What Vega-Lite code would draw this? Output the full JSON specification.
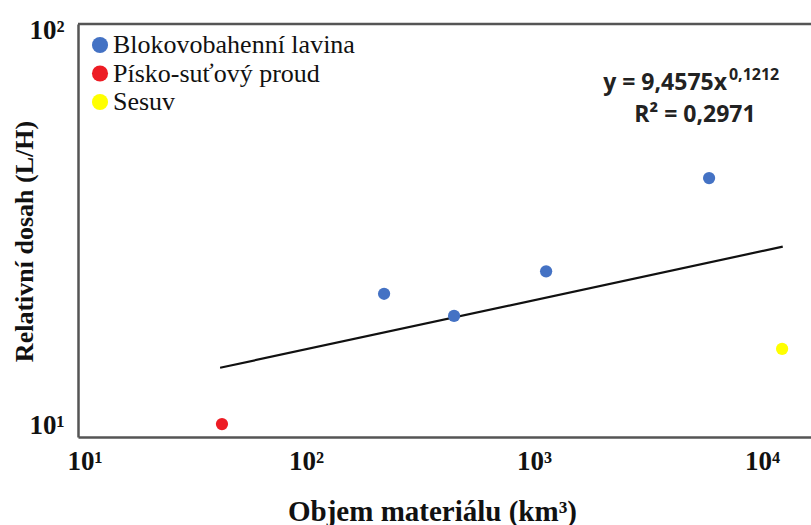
{
  "$schema": "https://vega.github.io/schema/vega-lite/v6.json",
  "width": 733,
  "height": 413,
  "autosize": {"type": "none"},
  "padding": {"left": 78, "top": 24, "right": 0, "bottom": 88},
  "background": "white",
  "config": {
    "view": {"stroke": null},
    "axis": {
      "domainColor": "#555555",
      "domainWidth": 2.5,
      "ticks": false,
      "grid": false,
      "labelFont": "Liberation Serif",
      "labelFontWeight": "bold",
      "labelFontSize": 27,
      "labelColor": "#111111",
      "titleFont": "Liberation Serif",
      "titleFontWeight": "bold",
      "titleFontSize": 26,
      "titleColor": "#111111"
    },
    "legend": {
      "labelFont": "Liberation Serif",
      "labelFontSize": 26,
      "labelFontWeight": "normal",
      "labelLimit": 0
    }
  },
  "datasets": {
    "points": [
      {"typ": "Písko-suťový proud", "objem": 42.8, "dosah": 10.06},
      {"typ": "Blokovobahenní lavina", "objem": 220, "dosah": 21.5},
      {"typ": "Blokovobahenní lavina", "objem": 446, "dosah": 18.9},
      {"typ": "Blokovobahenní lavina", "objem": 1130, "dosah": 24.5},
      {"typ": "Blokovobahenní lavina", "objem": 5860, "dosah": 42.2},
      {"typ": "Sesuv", "objem": 12250, "dosah": 15.6}
    ],
    "trend": [
      {"objem": 42, "dosah": 13.97},
      {"objem": 12330, "dosah": 28.3}
    ],
    "frame": [{"dosah": 103.6}]
  },
  "layer": [
    {
      "data": {"name": "frame"},
      "mark": {"type": "rule", "color": "#555555", "strokeWidth": 2.5},
      "encoding": {
        "y": {"field": "dosah", "type": "quantitative", "scale": {"type": "log", "domain": [9.33, 103.6]}}
      }
    },
    {
      "data": {"name": "trend"},
      "mark": {"type": "line", "color": "#111111", "strokeWidth": 2.2},
      "encoding": {
        "x": {"field": "objem", "type": "quantitative", "scale": {"type": "log", "domain": [10, 16400]},
          "axis": {"values": [10, 100, 1000, 10000], "labelExpr": "datum.value == 10 ? '10¹' : datum.value == 100 ? '10²' : datum.value == 1000 ? '10³' : '10⁴'", "labelPadding": 11, "labelFlush": true, "labelFlushOffset": 11, "title": "Objem materiálu (km³)", "titleFontSize": 29, "titleBaseline": "middle", "titleY": 74, "titleX": 354}},
        "y": {"field": "dosah", "type": "quantitative", "scale": {"type": "log", "domain": [9.33, 103.6]},
          "axis": {"values": [10, 100], "labelExpr": "datum.value == 10 ? '10¹' : '10²'", "labelPadding": 14, "labelBaseline": "middle", "title": "Relativní dosah (L/H)", "titleBaseline": "middle", "titleX": -54, "titleY": 217}}
      }
    },
    {
      "data": {"name": "points"},
      "mark": {"type": "circle", "size": 150, "opacity": 1},
      "encoding": {
        "x": {"field": "objem", "type": "quantitative", "scale": {"type": "log", "domain": [10, 16400]}},
        "y": {"field": "dosah", "type": "quantitative", "scale": {"type": "log", "domain": [9.33, 103.6]}},
        "color": {
          "field": "typ", "type": "nominal",
          "scale": {"domain": ["Blokovobahenní lavina", "Písko-suťový proud", "Sesuv"], "range": ["#4472C4", "#ED1C24", "#FFFF00"]},
          "legend": {
            "title": null, "orient": "none", "legendX": 9, "legendY": 8,
            "symbolType": "circle", "symbolSize": 260, "symbolStrokeWidth": 0, "symbolOpacity": 1,
            "labelFont": "Liberation Serif", "labelFontSize": 26, "labelColor": "#111111", "labelLimit": 0,
            "labelOffset": 0, "rowPadding": 2.5, "padding": 0
          }
        }
      }
    },
    {
      "data": {"values": [
        {"objem": 7020, "dosah": 73.4, "t": "y = 9,4575x"}
      ]},
      "mark": {"type": "text", "font": "Open Sans", "fontWeight": "bold", "fontSize": 23, "align": "right", "baseline": "middle", "color": "#222222"},
      "encoding": {
        "x": {"field": "objem", "type": "quantitative", "scale": {"type": "log", "domain": [10, 16400]}},
        "y": {"field": "dosah", "type": "quantitative", "scale": {"type": "log", "domain": [9.33, 103.6]}},
        "text": {"field": "t"}
      }
    },
    {
      "data": {"values": [
        {"objem": 7160, "dosah": 77.0, "t": "0,1212"}
      ]},
      "mark": {"type": "text", "font": "Open Sans", "fontWeight": "bold", "fontSize": 16, "align": "left", "baseline": "middle", "color": "#222222"},
      "encoding": {
        "x": {"field": "objem", "type": "quantitative", "scale": {"type": "log", "domain": [10, 16400]}},
        "y": {"field": "dosah", "type": "quantitative", "scale": {"type": "log", "domain": [9.33, 103.6]}},
        "text": {"field": "t"}
      }
    },
    {
      "data": {"values": [
        {"objem": 5080, "dosah": 60.95, "t": "R² = 0,2971"}
      ]},
      "mark": {"type": "text", "font": "Open Sans", "fontWeight": "bold", "fontSize": 23, "align": "center", "baseline": "middle", "color": "#222222"},
      "encoding": {
        "x": {"field": "objem", "type": "quantitative", "scale": {"type": "log", "domain": [10, 16400]}},
        "y": {"field": "dosah", "type": "quantitative", "scale": {"type": "log", "domain": [9.33, 103.6]}},
        "text": {"field": "t"}
      }
    }
  ]
}
